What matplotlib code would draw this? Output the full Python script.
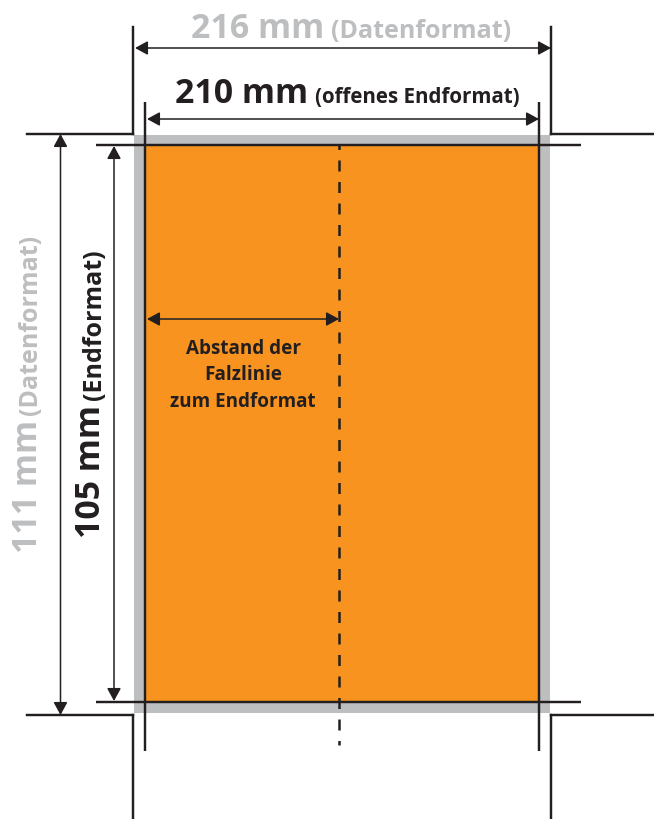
import matplotlib
matplotlib.use('Agg')
import matplotlib.pyplot as plt
from matplotlib.patches import Rectangle

plt.rcParams['font.family'] = ['Open Sans', 'DejaVu Sans']

# everything in image pixels, y pointing down
W, H = 654, 819
DARK = '#231f20'
GREY = '#bcbec0'
ORANGE = '#f7931e'

data_box = [134, 135, 550, 713]   # 216 x 111 mm
trim_box = [146, 145, 539, 702]   # 210 x 105 mm
fold_x = 339
fold_end = 745

# crop marks as (x0, y0, x1, y1)
outer_marks = [(27, 134, 133, 134), (133, 134, 133, 27),
               (551, 27, 551, 134), (551, 134, 654, 134),
               (27, 715, 133, 715), (133, 715, 133, 819),
               (551, 819, 551, 715), (551, 715, 654, 715)]
inner_marks = [(145, 102, 145, 751), (539, 102, 539, 751),
               (96, 145, 581, 145), (96, 702, 581, 702)]

# dimension arrows
arrows = [(135, 48, 551, 48), (147, 119, 539, 119),
          (60.5, 134, 60.5, 715), (114, 146, 114, 701),
          (147, 319, 339, 319)]

fig = plt.figure(figsize=(W / 100, H / 100), dpi=100)
ax = fig.add_axes([0, 0, 1, 1])
ax.set_xlim(0, W)
ax.set_ylim(H, 0)
ax.axis('off')

ax.add_patch(Rectangle((data_box[0], data_box[1]), data_box[2] - data_box[0],
                       data_box[3] - data_box[1], fc=GREY, ec='none', zorder=1))
ax.add_patch(Rectangle((trim_box[0], trim_box[1]), trim_box[2] - trim_box[0],
                       trim_box[3] - trim_box[1], fc=ORANGE, ec='none', zorder=2))

for x0, y0, x1, y1 in outer_marks:
    ax.plot([x0, x1], [y0, y1], color=DARK, lw=1.75, solid_capstyle='projecting', zorder=4)
for x0, y0, x1, y1 in inner_marks:
    ax.plot([x0, x1], [y0, y1], color=DARK, lw=1.75, solid_capstyle='butt', zorder=4)

# dash pattern is in line widths: 11 px on, 10.5 px off
ax.plot([fold_x, fold_x], [trim_box[1], fold_end], color=DARK, lw=1.8,
        linestyle=(2.6, (4.4, 4.2)), dash_capstyle='butt', zorder=3)

for x0, y0, x1, y1 in arrows:
    ax.annotate('', xy=(x1, y1), xytext=(x0, y0), zorder=5,
                arrowprops=dict(arrowstyle='<|-|>,head_length=0.55,head_width=0.3',
                                mutation_scale=14, color=DARK, lw=1.1,
                                shrinkA=0, shrinkB=0))

# top labels
ax.text(191, 38, '216 mm', color=GREY, fontsize=24.4, fontweight='bold', va='baseline')
ax.text(331, 38, '(Datenformat)', color=GREY, fontsize=18, fontweight='bold', va='baseline')
ax.text(175, 103, '210 mm', color=DARK, fontsize=24.4, fontweight='bold', va='baseline')
ax.text(315, 103, '(offenes Endformat)', color=DARK, fontsize=14.8, fontweight='bold', va='baseline')

# rotated labels on the left
ax.text(37, 553, '111 mm', color=GREY, fontsize=24.4, fontweight='bold', rotation=90,
        ha='left', va='baseline', rotation_mode='anchor')
ax.text(37, 415, '(Datenformat)', color=GREY, fontsize=18, fontweight='bold', rotation=90,
        ha='left', va='baseline', rotation_mode='anchor')
ax.text(100.5, 538, '105 mm', color=DARK, fontsize=24.4, fontweight='bold', rotation=90,
        ha='left', va='baseline', rotation_mode='anchor')
ax.text(100.5, 400, '(Endformat)', color=DARK, fontsize=18, fontweight='bold', rotation=90,
        ha='left', va='baseline', rotation_mode='anchor')

# fold note
note_lines = ['Abstand der', 'Falzlinie', 'zum Endformat']
note_y = [354, 380, 407]
for line, y in zip(note_lines, note_y):
    ax.text(243, y, line, color=DARK, fontsize=13.6, fontweight='bold', ha='center', va='baseline')

fig.savefig('out.png', dpi=100)
